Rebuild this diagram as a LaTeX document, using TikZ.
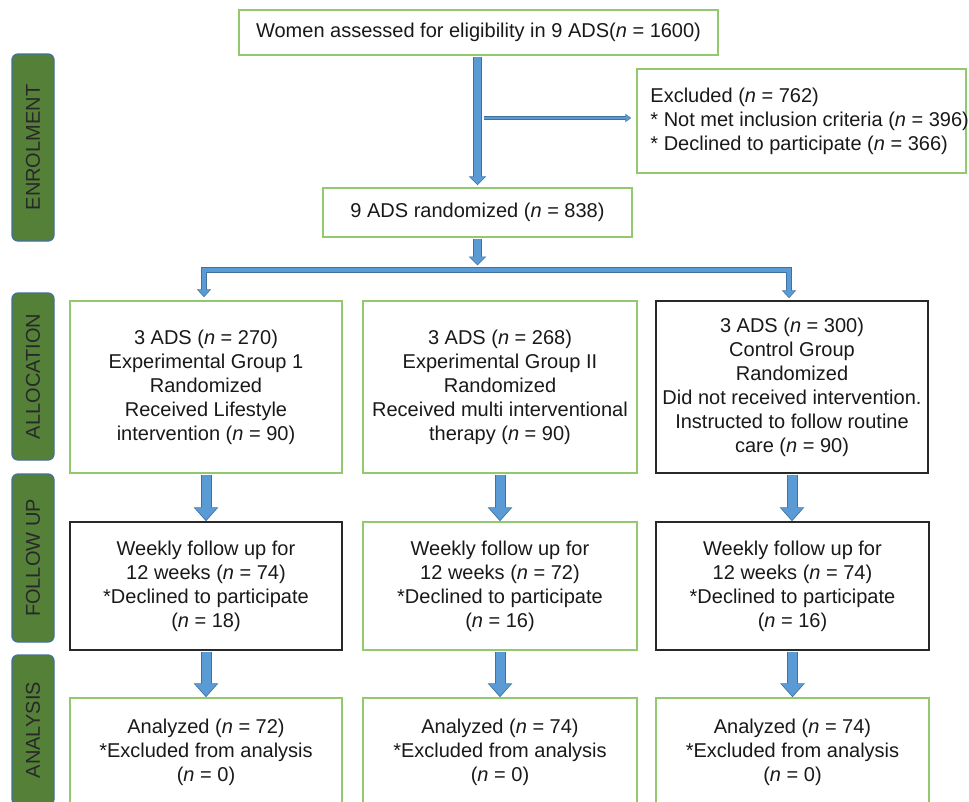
\documentclass[tikz,border=0pt]{standalone}
\usepackage{fontspec}
\setmainfont{Liberation Sans}
\usetikzlibrary{arrows.meta}
\definecolor{gboxc}{RGB}{146,200,110}
\definecolor{kboxc}{RGB}{40,40,40}
\definecolor{lblfill}{RGB}{84,128,56}
\definecolor{lbledge}{RGB}{65,113,156}
\definecolor{lbltext}{RGB}{40,40,40}
\definecolor{arrowfill}{RGB}{91,155,213}
\definecolor{arrowedge}{RGB}{65,113,156}
\definecolor{txt}{RGB}{25,25,25}
\newcommand{\nv}{\textit{n}}
\tikzset{
  gbox/.style={draw=gboxc, line width=1.5pt, fill=white, inner sep=0pt, align=center, text=txt},
  kbox/.style={draw=kboxc, line width=1.5pt, fill=white, inner sep=0pt, align=center, text=txt},
  lbl/.style={draw=lbledge, line width=1.3pt, fill=lblfill, rounded corners=6pt, rotate=90,
    minimum height=42pt, inner sep=0pt, text=lbltext},
  thickarrow/.style={preaction={draw=arrowedge, line width=11pt, -{Triangle[width=24pt,length=14pt]}, shorten >=0pt},
    draw=arrowfill, line width=9pt, -{Triangle[width=21.5pt,length=12.4pt]}, shorten >=1.3pt},
  midarrow/.style={preaction={draw=arrowedge, line width=8.5pt, -{Triangle[width=17pt,length=9pt]}, shorten >=0pt},
    draw=arrowfill, line width=6.5pt, -{Triangle[width=14.5pt,length=7.7pt]}, shorten >=1pt},
  thinarrow/.style={preaction={draw=arrowedge, line width=4pt, -{Triangle[width=8pt,length=6pt]}, shorten >=0pt},
    draw=arrowfill, line width=2pt, -{Triangle[width=5.5pt,length=4.5pt]}, shorten >=1pt},
  busarrow/.style={preaction={draw=arrowedge, line width=6.5pt, {Triangle[width=14pt,length=8pt]}-{Triangle[width=14pt,length=8pt]}, shorten >=0pt, shorten <=0pt},
    draw=arrowfill, line width=4.5pt, {Triangle[width=11.5pt,length=6.6pt]}-{Triangle[width=11.5pt,length=6.6pt]}, shorten >=1pt, shorten <=1pt, line join=miter},
}
\begin{document}
\begin{tikzpicture}[x=1pt,y=-1pt, font=\fontsize{20}{24}\selectfont]
\useasboundingbox (0,0) rectangle (969,801);
\clip (0,0) rectangle (969,801);
\fill[white] (0,0) rectangle (969,801);

% stage labels
\node[lbl, minimum width=187pt] (lenrol) at (33,147.5) {ENROLMENT};
\node[lbl, minimum width=167pt] (lalloc) at (33,376.5) {ALLOCATION};
\node[lbl, minimum width=168pt] (lfollow) at (33,558) {FOLLOW UP};
\node[lbl, minimum width=150pt] (lanal) at (33,730) {ANALYSIS};

% enrolment
\node[gbox, minimum width=479pt, minimum height=45pt] (top) at (478.5,32.5)
  {Women assessed for eligibility in 9 ADS(\nv{} = 1600)};
\node[gbox, minimum width=329pt, minimum height=104pt] (excl) at (801.5,121) {};
\node[anchor=west, align=left, text=txt, inner sep=0pt] (excltext) at ([xshift=14pt]excl.west)
  {Excluded (\nv{} = 762)\\* Not met inclusion criteria (\nv{} = 396)\\* Declined to participate (\nv{} = 366)};
\node[gbox, minimum width=309pt, minimum height=49pt] (rand) at (477.5,212.5)
  {9 ADS randomized (\nv{} = 838)};

% allocation
\node[gbox, minimum width=272pt, minimum height=172pt] (a1) at (206,387)
  {3 ADS (\nv{} = 270)\\Experimental Group 1\\Randomized\\Received Lifestyle\\intervention (\nv{} = 90)};
\node[gbox, minimum width=274pt, minimum height=172pt] (a2) at (500,387)
  {3 ADS (\nv{} = 268)\\Experimental Group II\\Randomized\\Received multi interventional\\therapy (\nv{} = 90)};
\node[kbox, minimum width=272pt, minimum height=172pt] (a3) at (792,387)
  {3 ADS (\nv{} = 300)\\Control Group\\Randomized\\Did not received intervention.\\Instructed to follow routine\\care (\nv{} = 90)};

% follow up
\node[kbox, minimum width=272pt, minimum height=128pt] (f1) at (206,586)
  {Weekly follow up for\\12 weeks (\nv{} = 74)\\*Declined to participate\\(\nv{} = 18)};
\node[gbox, minimum width=274pt, minimum height=128pt] (f2) at (500,586)
  {Weekly follow up for\\12 weeks (\nv{} = 72)\\*Declined to participate\\(\nv{} = 16)};
\node[kbox, minimum width=273pt, minimum height=128pt] (f3) at (792.5,586)
  {Weekly follow up for\\12 weeks (\nv{} = 74)\\*Declined to participate\\(\nv{} = 16)};

% analysis
\node[gbox, minimum width=272pt, minimum height=108pt] (n1) at (206,752)
  {Analyzed (\nv{} = 72)\\*Excluded from analysis\\(\nv{} = 0)};
\node[gbox, minimum width=274pt, minimum height=108pt] (n2) at (500,752)
  {Analyzed (\nv{} = 74)\\*Excluded from analysis\\(\nv{} = 0)};
\node[gbox, minimum width=273pt, minimum height=108pt] (n3) at (792.5,752)
  {Analyzed (\nv{} = 74)\\*Excluded from analysis\\(\nv{} = 0)};

% connectors
\coordinate (branch) at (484,118);
\coordinate (busM) at (477.5,270);
\coordinate (busL) at (204,270);
\coordinate (busR) at (789,270);

\draw[thinarrow] (branch) -- ([xshift=-5pt]branch -| excl.west);
\draw[midarrow] ([yshift=-0.8pt]top.south -| rand.north) -- ([yshift=2pt]rand.north);
\draw[midarrow] ([yshift=-0.8pt]rand.south) -- ([yshift=4.5pt]busM);
\draw[busarrow] ([yshift=3pt]busL |- a1.north) -- (busL) -- (busR) -- ([yshift=2pt]busR |- a3.north);

\draw[thickarrow] ([yshift=-0.8pt]a1.south) -- (f1.north);
\draw[thickarrow] ([yshift=-0.8pt]a2.south) -- (f2.north);
\draw[thickarrow] ([yshift=-0.8pt]a3.south) -- (f3.north -| a3.south);
\draw[thickarrow] ([yshift=-0.8pt]f1.south) -- (n1.north);
\draw[thickarrow] ([yshift=-0.8pt]f2.south) -- (n2.north);
\draw[thickarrow] ([yshift=-0.8pt]f3.south) -- (n3.north -| f3.south);
\end{tikzpicture}
\end{document}
